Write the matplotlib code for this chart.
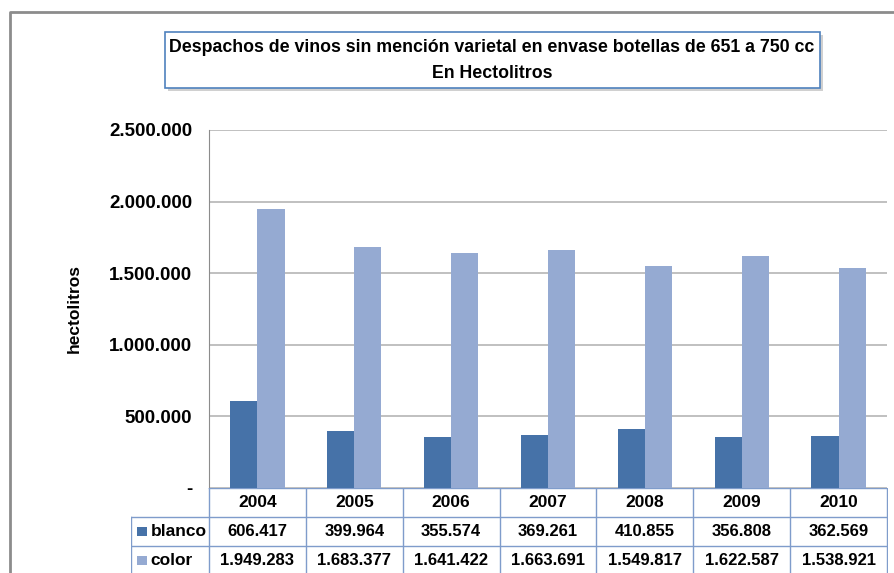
import numpy as np
import matplotlib.pyplot as plt
from matplotlib.patches import Rectangle

plt.rcParams['font.family'] = ['Liberation Sans', 'DejaVu Sans']

# datos (hectolitros)
years = ["2004", "2005", "2006", "2007", "2008", "2009", "2010"]
blanco = [606417, 399964, 355574, 369261, 410855, 356808, 362569]
color = [1949283, 1683377, 1641422, 1663691, 1549817, 1622587, 1538921]
series_names = ["blanco", "color"]
yticks = [0, 500000, 1000000, 1500000, 2000000, 2500000]

c_blanco = "#4672A8"
c_color = "#95AAD2"
c_grid = "#B5B5B5"
c_table = "#7F9CCB"

W, H = 894, 573
fig = plt.figure(figsize=(W / 100, H / 100), dpi=100)


def px(l, t, r, b):
    return [l / W, 1 - b / H, (r - l) / W, (b - t) / H]


def fmt(v):
    if v == 0:
        return "-"
    return f"{v:,.0f}".replace(",", ".")


# marco exterior
frame = fig.add_axes([0, 0, 1, 1])
frame.set_xlim(0, W)
frame.set_ylim(H, 0)
frame.axis("off")
frame.plot([10, 10, W + 5], [H + 5, 12, 12], color="#8C8C8C", lw=2)

# titulo en caja
frame.add_patch(Rectangle((168, 35), 655, 56, facecolor="#D0D0D0", edgecolor="none"))
frame.add_patch(Rectangle((165, 32), 655, 56, facecolor="white", edgecolor="#4F81BD", lw=1.2))
frame.text(492, 48, "Despachos de vinos sin mención varietal en envase botellas de 651 a 750 cc",
           ha="center", va="center", fontsize=12.8, fontweight="bold")
frame.text(492, 73, "En Hectolitros", ha="center", va="center", fontsize=12.8, fontweight="bold")

# grafico de barras
x0, x1 = 209, 887
ax = fig.add_axes(px(x0, 130, x1, 488))
x = np.arange(len(years))
bw = 0.28
ax.bar(x - bw / 2, blanco, bw, color=c_blanco, zorder=3)
ax.bar(x + bw / 2, color, bw, color=c_color, zorder=3)
ax.set_xlim(-0.5, len(years) - 0.5)
ax.set_ylim(0, 2500000)
ax.set_yticks(yticks)
ax.set_yticklabels([fmt(v) for v in yticks], fontsize=13.5, fontweight="bold")
ax.tick_params(axis="y", length=0, pad=12)
ax.set_xticks([])
ax.grid(axis="y", color=c_grid, lw=1.2, zorder=0)
for s in ["top", "right", "bottom"]:
    ax.spines[s].set_visible(False)
ax.spines["left"].set_color("#8C8C8C")
ax.set_ylabel("hectolitros", fontsize=12.5, fontweight="bold")
ax.yaxis.set_label_coords(-(x0 - 82) / (x1 - x0), 0.5)

# tabla de datos
colw = (x1 - x0) / len(years)
hdr = 78 / colw
tx = fig.add_axes(px(131, 488, x1 + 1, H + 2))
tx.set_xlim(-0.5 - hdr, len(years) - 0.5 + 1 / colw)
tx.set_ylim(3, 0)
tx.axis("off")
rows = [blanco, color]
colors = [c_blanco, c_color]
tx.plot([-0.5, len(years) - 0.5], [0, 0], color=c_table, lw=1)
for r in range(1, 3):
    tx.plot([-0.5 - hdr, len(years) - 0.5], [r, r], color=c_table, lw=1)
for i in range(len(years) + 1):
    tx.plot([i - 0.5, i - 0.5], [0, 3], color=c_table, lw=1)
tx.plot([-0.5 - hdr, -0.5 - hdr], [1, 3], color=c_table, lw=1)
for i, yr in enumerate(years):
    tx.text(i, 0.5, yr, ha="center", va="center", fontsize=12.5, fontweight="bold")
for r, (name, vals, c) in enumerate(zip(series_names, rows, colors)):
    yc = r + 1.5
    tx.add_patch(Rectangle((-0.5 - hdr + 0.065, yc - 0.17), 0.1, 0.34, facecolor=c, edgecolor="none"))
    tx.text(-0.5 - hdr + 0.2, yc, name, ha="left", va="center", fontsize=12.5, fontweight="bold")
    for i, v in enumerate(vals):
        tx.text(i, yc, fmt(v), ha="center", va="center", fontsize=12, fontweight="bold")

fig.savefig("out.png", dpi=100)
